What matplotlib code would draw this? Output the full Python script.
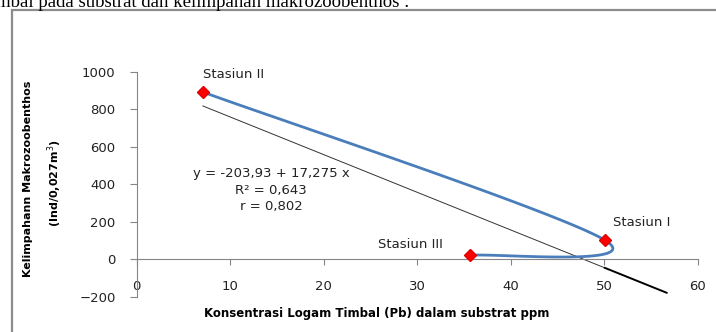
import numpy as np
import matplotlib
matplotlib.use('Agg')
from matplotlib import pyplot as plt
from matplotlib.patches import Rectangle

# data
stations = ['Stasiun II', 'Stasiun I', 'Stasiun III']
pb_ppm = [7.1, 50.1, 35.7]
abundance = [893, 101, 20]
trend_forward = 6.6
eq_lines = ['y = -203,93 + 17,275 x', 'R\u00b2 = 0,643', 'r = 0,802']
x_ticks = [0, 10, 20, 30, 40, 50, 60]
y_ticks = [-200, 0, 200, 400, 600, 800, 1000]

W, H = 716, 332
plt.rcParams['font.family'] = ['DejaVu Sans']
fig = plt.figure(figsize=(W / 100, H / 100), dpi=100)
ax = fig.add_axes([136.5 / W, 1 - 296.5 / H, 561 / W, 224.5 / H])
ax.set_xlim(0, 60)
ax.set_ylim(-200, 1000)

grey = '#868686'
for s in ['top', 'right']:
    ax.spines[s].set_visible(False)
ax.spines['bottom'].set_position(('data', 0))
ax.spines['bottom'].set_color(grey)
ax.spines['left'].set_color(grey)
ax.set_xticks(x_ticks)
ax.set_yticks(y_ticks)
ax.tick_params(axis='x', direction='out', length=4, color=grey, pad=11,
               labelsize=9.5, labelcolor='#222222')
ax.tick_params(axis='y', direction='out', length=5, color=grey, pad=10,
               labelsize=9.5, labelcolor='#222222')

# excel style smoothed line, bezier built in display space
pts = ax.transData.transform(np.column_stack([pb_ppm, abundance]))
ext = np.vstack([pts[0], pts, pts[-1]])
t = np.linspace(0, 1, 60)[:, None]
curve = []
for i in range(len(pts) - 1):
    p0, p3 = ext[i + 1], ext[i + 2]
    c1 = p0 + (ext[i + 2] - ext[i]) / 6.0
    c2 = p3 - (ext[i + 3] - ext[i + 1]) / 6.0
    seg = ((1 - t) ** 3) * p0 + 3 * ((1 - t) ** 2) * t * c1 \
        + 3 * (1 - t) * t ** 2 * c2 + t ** 3 * p3
    curve.append(seg)
curve = ax.transData.inverted().transform(np.vstack(curve))
ax.plot(curve[:, 0], curve[:, 1], color='#4A7EBB', lw=2.0, zorder=3,
        solid_capstyle='round')

# linear trendline
slope, icpt = np.polyfit(pb_ppm, abundance, 1)
x0, x1 = min(pb_ppm), max(pb_ppm)
xa = np.array([x0, x1])
ax.plot(xa, icpt + slope * xa, color='#333333', lw=0.7, zorder=2)
xb = np.array([x1, x1 + trend_forward])
ax.plot(xb, icpt + slope * xb, color='black', lw=1.4, zorder=2)

ax.plot(pb_ppm, abundance, linestyle='none', marker='D', ms=6.5,
        color='#FF0000', mec='#E00000', zorder=4)

# labels for stations
lbl_pos = {'Stasiun II': (7.1, 984), 'Stasiun I': (51.0, 193),
           'Stasiun III': (25.8, 80)}
for name in stations:
    ax.text(lbl_pos[name][0], lbl_pos[name][1], name, fontsize=9.5,
            ha='left', va='center', color='#222222')

for k, line in enumerate(eq_lines):
    ax.text(14.4, 455 - 88 * k, line, fontsize=9.5, ha='center', va='center',
            color='#222222')

fig.text(377 / W, 1 - 313 / H, 'Konsentrasi Logam Timbal (Pb) dalam substrat ppm',
         fontsize=8.5, fontweight='bold', ha='center', va='center')
fig.text(28 / W, 1 - 179 / H, 'Kelimpahann Makrozoobenthos', fontsize=8,
         fontweight='bold', rotation=90, ha='center', va='center')
fig.text(55 / W, 1 - 183 / H, '(Ind/0,027m$^{3}$)', fontsize=8,
         fontweight='bold', rotation=90, ha='center', va='center')

# chart frame and cut-off document text
fig.patches.append(Rectangle((12 / W, -0.2), 1.2, 1.2 - 10 / H,
                             transform=fig.transFigure, fill=False,
                             edgecolor='#8c8c8c', lw=1.6))
fig.text(-4 / W, 1 - 7 / H, 'mbal pada substrat dan kelimpahan makrozoobenthos :',
         family='Liberation Serif', fontsize=13.5, ha='left', va='baseline')

fig.savefig('out.png', dpi=100)
